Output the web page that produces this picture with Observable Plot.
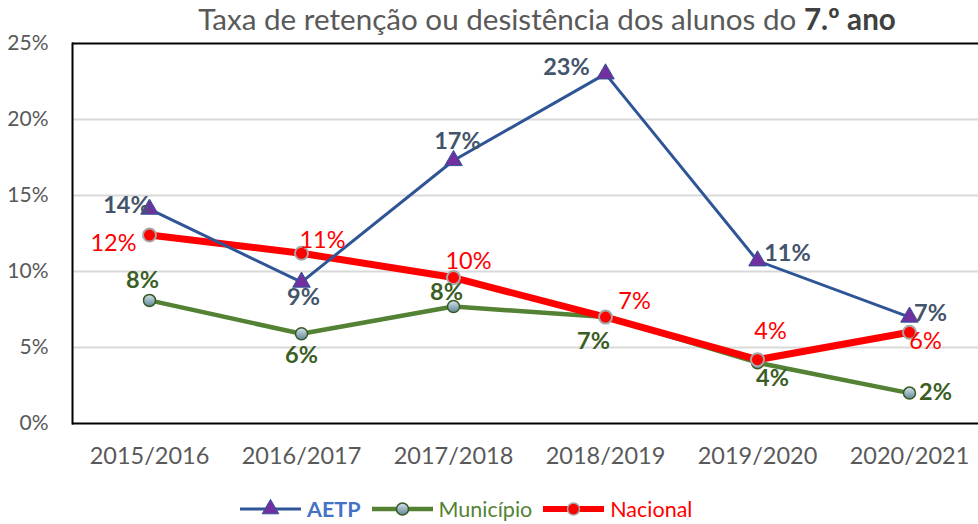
<!DOCTYPE html>
<html>
<head>
<meta charset="utf-8">
<script src="https://cdn.jsdelivr.net/npm/d3@7"></script>
<script src="https://cdn.jsdelivr.net/npm/@observablehq/plot@0.6"></script>
<style>
  html, body { margin: 0; padding: 0; background: #fff; }
  body { width: 978px; height: 524px; overflow: hidden; font-family: Lato, "Open Sans", sans-serif; }
  #title { height: 28px; line-height: 37px; font-size: 29.6px; color: #595959; text-align: center; padding-left: 116px; white-space: nowrap; }
  #title b { color: #404040; }
  #legend { display: flex; justify-content: flex-start; align-items: center; height: 46px; padding-left: 240px; padding-top: 8px; font-size: 21.5px; }
  .item { display: flex; align-items: center; margin-right: 11px; }
  .item svg { margin-right: 6px; }
</style>
</head>
<body>
<div id="title">Taxa de retenção ou desistência dos alunos do <b>7.º ano</b></div>
<div id="chart"></div>
<div id="legend"></div>
<script>
const categories = ["2015/2016", "2016/2017", "2017/2018", "2018/2019", "2019/2020", "2020/2021"];
const aetp = [14.1, 9.3, 17.3, 23.0, 10.7, 7.0];
const municipio = [8.1, 5.9, 7.7, 7.0, 4.0, 2.0];
const nacional = [12.4, 11.2, 9.6, 7.0, 4.2, 6.0];
const yTicks = [0, 5, 10, 15, 20, 25];
const seriesNames = ["AETP", "Município", "Nacional"];

// label nudges (dx, dy) relative to each point
const aetpLabelOffsets = [[-23, -4], [2, 15], [4, -19], [-39, -6], [30, -7], [21, -4]];
const municipioLabelOffsets = [[-7, -20], [0, 22], [-7, -14], [-12, 24], [15, 16], [26, -1]];
const nacionalLabelOffsets = [[-36, 8], [21, -13], [15, -16], [29, -16], [13, -28], [16, 9]];

const rows = (vals) => categories.map((c, i) => ({cat: c, v: vals[i], i}));
const dA = rows(aetp), dM = rows(municipio), dN = rows(nacional);

const fmt = d => Math.round(d) + "%";
function labels(data, offsets, opts) {
  return data.map((d, k) => Plot.text([d], {
    x: "cat", y: "v", text: r => fmt(r.v),
    dx: offsets[k][0], dy: offsets[k][1],
    textAnchor: "middle", lineAnchor: "middle",
    fontFamily: "Lato, sans-serif", ...opts
  }));
}

const chart = Plot.plot({
  width: 978, height: 450,
  marginLeft: 72, marginRight: 0, marginTop: 15, marginBottom: 55,
  style: {fontFamily: "Lato, sans-serif", color: "#595959", background: "transparent", overflow: "visible"},
  x: {type: "point", domain: categories, range: [148, 910], padding: 0, axis: null},
  y: {domain: [0, 25], axis: null},
  marks: [
    Plot.ruleY(yTicks.slice(1, -1), {stroke: "#d9d9d9", strokeWidth: 2}),
    Plot.ruleY([0, 25], {stroke: "#000", strokeWidth: 2}),
    Plot.frame({anchor: "left", stroke: "#000", strokeWidth: 2}),
    Plot.axisY(yTicks, {tickSize: 0, tickPadding: 24, tickFormat: d => d + "%", fontSize: 21, fill: "#595959", label: null}),
    Plot.axisX(categories, {tickSize: 0, tickPadding: 24, fontSize: 23.5, fill: "#595959", label: null}),
    // Município
    Plot.line(dM, {x: "cat", y: "v", stroke: "#548235", strokeWidth: 4.5}),
    Plot.dot(dM, {x: "cat", y: "v", r: 6, fill: "url(#muniGrad)", stroke: "#385723", strokeWidth: 1.5}),
    // Nacional
    Plot.line(dN, {x: "cat", y: "v", stroke: "#ff0000", strokeWidth: 7}),
    Plot.dot(dN, {x: "cat", y: "v", r: 6.5, fill: "#ff0000", stroke: "#a6a6a6", strokeWidth: 2}),
    // AETP
    Plot.line(dA, {x: "cat", y: "v", stroke: "#2f5597", strokeWidth: 3}),
    Plot.dot(dA, {x: "cat", y: "v", symbol: "triangle", r: 6.5, fill: "#7030a0", stroke: "#2f5597", strokeWidth: 1}),
    ...labels(dM, municipioLabelOffsets, {fill: "#3b5e24", fontWeight: "bold", fontSize: 23.5}),
    ...labels(dN, nacionalLabelOffsets, {fill: "#ff0000", fontSize: 23.5}),
    ...labels(dA, aetpLabelOffsets, {fill: "#44546a", fontWeight: "bold", fontSize: 23.5})
  ]
});

const defs = d3.select(chart).insert("defs", ":first-child");
const g = defs.append("linearGradient").attr("id", "muniGrad").attr("x1", 0).attr("y1", 0).attr("x2", 0).attr("y2", 1);
g.append("stop").attr("offset", "0%").attr("stop-color", "#d6e4ee");
g.append("stop").attr("offset", "100%").attr("stop-color", "#5f8799");
document.getElementById("chart").appendChild(chart);

// legend
const legendStyles = [
  {line: "#2f5597", w: 3, marker: "tri", fill: "#7030a0", stroke: "#2f5597", color: "#4472c4", weight: "bold"},
  {line: "#548235", w: 4.5, marker: "circ", fill: "url(#muniGradL)", stroke: "#385723", color: "#548235", weight: "normal"},
  {line: "#ff0000", w: 6, marker: "circ", fill: "#ff0000", stroke: "#a6a6a6", color: "#ff0000", weight: "normal"}
];
const legend = d3.select("#legend");
seriesNames.forEach((name, i) => {
  const s = legendStyles[i];
  const item = legend.append("div").attr("class", "item");
  const svg = item.append("svg").attr("width", 61).attr("height", 22);
  if (i === 1) {
    const lg = svg.append("defs").append("linearGradient").attr("id", "muniGradL").attr("x1", 0).attr("y1", 0).attr("x2", 0).attr("y2", 1);
    lg.append("stop").attr("offset", "0%").attr("stop-color", "#d6e4ee");
    lg.append("stop").attr("offset", "100%").attr("stop-color", "#5f8799");
  }
  svg.append("line").attr("x1", 0).attr("x2", 61).attr("y1", 11).attr("y2", 11).attr("stroke", s.line).attr("stroke-width", s.w).attr("stroke-linecap", "round");
  if (s.marker === "tri") {
    svg.append("path").attr("d", d3.symbol(d3.symbolTriangle, 120)()).attr("transform", "translate(30.5,11)").attr("fill", s.fill).attr("stroke", s.stroke);
  } else {
    svg.append("circle").attr("cx", 30.5).attr("cy", 11).attr("r", 6).attr("fill", s.fill).attr("stroke", s.stroke).attr("stroke-width", 1.5);
  }
  item.append("span").text(name).style("color", s.color).style("font-weight", s.weight);
});
</script>
</body>
</html>
